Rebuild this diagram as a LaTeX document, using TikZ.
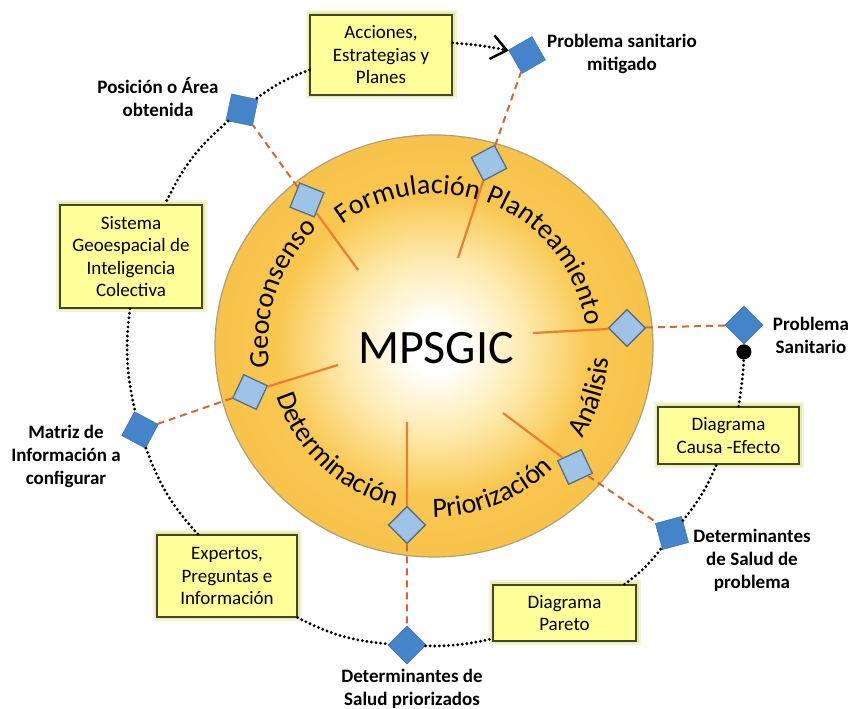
\documentclass[tikz,border=0pt]{standalone}
\usepackage{fontspec}
\setmainfont{Carlito}
\usetikzlibrary{decorations.text,arrows.meta,shapes.geometric}

\definecolor{goldedge}{RGB}{246,188,66}
\definecolor{goldmain}{RGB}{249,199,80}
\definecolor{goldpale}{RGB}{254,236,180}
\definecolor{spokec}{RGB}{237,125,49}
\definecolor{dashc}{RGB}{205,105,55}
\definecolor{dblue}{RGB}{70,132,202}
\definecolor{lblue}{RGB}{157,195,230}
\definecolor{lborder}{RGB}{85,110,140}
\definecolor{boxfill}{RGB}{255,255,153}
\definecolor{boxline}{RGB}{70,70,40}
\definecolor{glowc}{RGB}{205,215,95}
\definecolor{rimc}{RGB}{170,160,125}

\pgfdeclareradialshading{sunglow}{\pgfpoint{0bp}{0bp}}{color(0bp)=(white); color(3bp)=(white); color(10bp)=(goldpale); color(18bp)=(goldmain); color(35bp)=(goldedge); color(50bp)=(goldedge)}

\newcommand{\myarcfont}{\fontsize{28}{28}\selectfont}

\begin{document}
\begin{tikzpicture}[x=1pt,y=1pt,
  innerd/.style={rectangle, draw=lborder, fill=lblue, line width=1.3pt, minimum size=26pt, inner sep=0pt},
  outerd/.style={rectangle, fill=dblue, draw=dblue!85!black, line width=0.5pt, minimum size=27pt, inner sep=0pt},
  spokeline/.style={spokec, line width=2.2pt},
  dashline/.style={dashc, line width=2pt, dash pattern=on 7pt off 5pt},
  dotline/.style={black, line width=3.2pt, dash pattern=on 0pt off 4.6pt, line cap=round},
  ybox/.style={rectangle, draw=boxline, fill=boxfill, line width=1.3pt, inner sep=0pt, align=center,
    font=\fontsize{19}{22.5}\selectfont,
    preaction={draw=glowc, line width=9pt, draw opacity=0.25},
    preaction={draw=glowc, line width=5pt, draw opacity=0.35}},
  lbl/.style={font=\bfseries\fontsize{19}{23}\selectfont, align=center, inner sep=0pt},
  arclbl/.style={decorate, decoration={text along path, text align=center, text={|\myarcfont|#1}}}
]
\useasboundingbox (0,0) rectangle (849,709);

\coordinate (C) at (434,363);

% main disc
\path[shade, shading=sunglow, draw=rimc, line width=1.2pt] (C) ellipse[x radius=219, y radius=211];

% spokes inner ends
\coordinate (s1) at (358,439);
\coordinate (s2) at (458,451);
\coordinate (s3) at (533,376);
\coordinate (s4) at (503,296);
\coordinate (s5) at (407,287);
\coordinate (s6) at (338,344);

% inner diamonds
\node[innerd, rotate=-22] (d1) at (307,509) {};
\node[innerd, rotate=28] (d2) at (489,546) {};
\node[innerd, rotate=45] (d3) at (627,381) {};
\node[innerd, rotate=25] (d4) at (575,242) {};
\node[innerd, rotate=45] (d5) at (407,184) {};
\node[innerd, rotate=-25] (d6) at (250,317) {};

\draw[spokeline] (s1) -- (d1);
\draw[spokeline] (s2) -- (d2);
\draw[spokeline] (s3) -- (d3);
\draw[spokeline] (s4) -- (d4);
\draw[spokeline] (s5) -- (d5);
\draw[spokeline] (s6) -- (d6);

% centre title
\node[font=\fontsize{48}{48}\selectfont, inner sep=0pt] (mp) at (436,361) {MPSGIC};

% curved labels
\path[arclbl={Formulación}] ([shift={(140:152)}]C) arc[start angle=140, end angle=60, radius=152];
\path[arclbl={Planteamiento}] ([shift={(84:153)}]C) arc[start angle=84, end angle=-6, radius=153];
\path[arclbl={Geoconsenso}] ([shift={(206:166)}]C) arc[start angle=206, end angle=116, radius=166];
\path[arclbl={Análisis}] ([shift={(-58:175)}]C) arc[start angle=-58, end angle=22, radius=175];
\path[arclbl={Priorización}] ([shift={(-113:171)}]C) arc[start angle=-113, end angle=-23, radius=171];
\path[arclbl={Determinación}] ([shift={(-178:165)}]C) arc[start angle=-178, end angle=-88, radius=165];

% outer diamonds
\node[outerd, rotate=-12] (o1) at (242,599) {};
\node[outerd, rotate=30] (o2) at (527,654) {};
\node[outerd, rotate=45] (o3) at (744,384) {};
\node[outerd, rotate=15] (o4) at (672,176) {};
\node[outerd, rotate=45] (o5) at (407,64) {};
\node[outerd, rotate=-28] (o6) at (140,279) {};

% dashed links
\draw[dashline] (d1) -- (o1);
\draw[dashline] (d2) -- (o2);
\draw[dashline] (d3) -- (o3);
\draw[dashline] (d4) -- (o4);
\draw[dashline] (d5) -- (o5);
\draw[dashline] (d6) -- (o6);

% yellow boxes
\node[ybox, minimum width=142pt, minimum height=80pt] (b1) at (381,654) {Acciones,\\Estrategias y\\Planes};
\node[ybox, minimum width=142pt, minimum height=103pt] (b2) at (131,452.5) {Sistema\\Geoespacial de\\Inteligencia\\Colectiva};
\node[ybox, minimum width=141pt, minimum height=57pt] (b3) at (728.5,273.5) {Diagrama\\Causa -Efecto};
\node[ybox, minimum width=143pt, minimum height=56pt] (b4) at (564.5,96) {Diagrama\\Pareto};
\node[ybox, minimum width=140pt, minimum height=82pt] (b5) at (227,133) {Expertos,\\Preguntas e\\Información};

% dotted outer cycle
\draw[dotline, -{Straight Barb[length=15pt, width=24pt, line width=2.5pt]}] ([yshift=12pt]b1.east) to[bend left=4] (o2);
\draw[dotline] ([yshift=-15pt]b1.west) to[bend right=8] (o1);
\draw[dotline] (o1) to[bend right=12] ([xshift=34pt]b2.north);
\draw[dotline] ([xshift=-1pt]b2.south) to[bend right=10] (o6);
\draw[dotline] (o6) to[bend right=11] ([xshift=-29pt]b5.north);
\draw[dotline] (b5.south east) to[bend right=11] (o5);
\draw[dotline] (o5) to[bend right=7] ([yshift=3pt]b4.south west);
\draw[dotline] ([xshift=60pt]b4.north) to[bend right=8] (o4);
\draw[dotline] (o4) to[bend right=8] ([xshift=-12pt]b3.south);
\draw[dotline, -{Circle[length=15pt]}] ([xshift=10pt]b3.north) to[bend right=4] (o3);

% bold labels
\node[lbl] (l1) at (158,611.5) {Posición o Área\\obtenida};
\node[lbl] (l2) at (622,655) {Problema sanitario\\mitigado};
\node[lbl] (l3) at (811,374) {Problema\\Sanitario};
\node[lbl] (l4) at (752,149) {Determinantes\\de Salud de\\problema};
\node[lbl] (l5) at (412,20) {Determinantes de\\Salud priorizados};
\node[lbl] (l6) at (66,253) {Matriz de\\Información a\\configurar};
\end{tikzpicture}
\end{document}
